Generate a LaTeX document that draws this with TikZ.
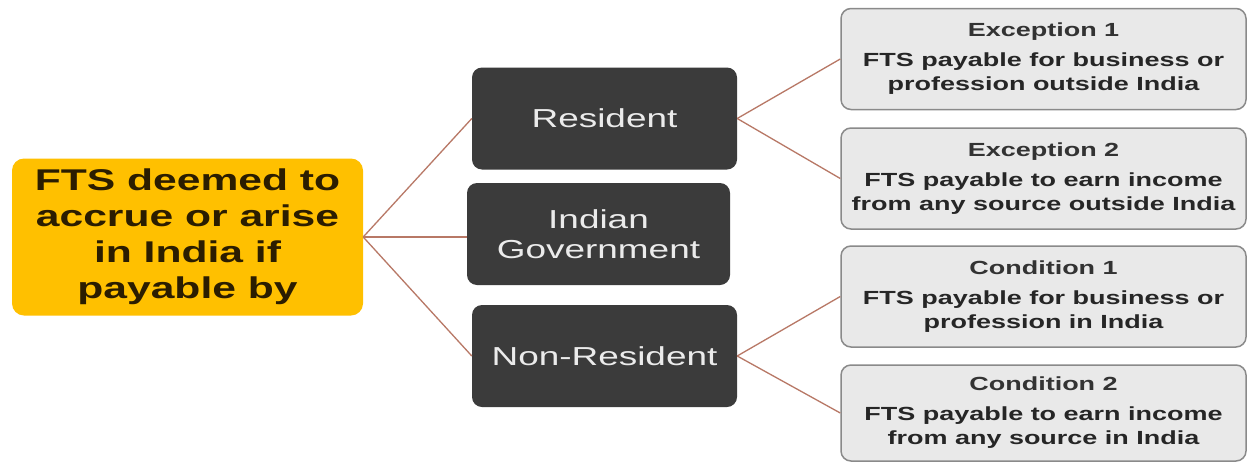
\documentclass[tikz,border=0pt]{standalone}
\usepackage{fontspec}
\setmainfont{Liberation Sans}[FakeStretch=1.42]
\definecolor{amber}{HTML}{FFC000}
\definecolor{darkfill}{HTML}{3B3B3B}
\definecolor{lightfill}{HTML}{E9E9E9}
\definecolor{lightborder}{HTML}{8A8A8A}
\definecolor{conncol}{HTML}{B87866}
\definecolor{roottext}{HTML}{2B1D00}
\definecolor{titlecol}{HTML}{333333}
\begin{document}
\begin{tikzpicture}[x=1pt,y=-1pt,
  rootbox/.style={fill=amber, rounded corners=12pt, minimum width=351pt, minimum height=157pt,
    inner sep=0pt, align=center, text=roottext, font=\fontsize{30}{36}\selectfont\bfseries},
  darkbox/.style={fill=darkfill, rounded corners=10pt, minimum width=265pt, minimum height=102pt,
    inner sep=0pt, align=center, text=white!92!black, font=\fontsize{26}{30}\selectfont},
  infobox/.style={fill=lightfill, draw=lightborder, line width=1.5pt, rounded corners=10pt,
    minimum width=405pt, minimum height=101pt, inner sep=0pt, align=center, text=black!85,
    font=\fontsize{19}{24}\selectfont\bfseries},
  conn/.style={draw=conncol, line width=1.3pt}
]
\useasboundingbox (0,0) rectangle (1249,463);
\fill[white] (0,0) rectangle (1249,463);

\node[rootbox] (root) at (187.5,237) {FTS deemed to\\accrue or arise\\in India if\\payable by};

\node[darkbox] (res) at (604.5,118.5) {Resident};
\node[darkbox, minimum width=263pt] (gov) at (598.5,234) {Indian\\Government};
\node[darkbox] (non) at (604.5,356) {Non-Resident};

\node[infobox] (e1) at (1043.5,59) {{\color{titlecol}Exception 1}\\[6pt]FTS payable for business or\\profession outside India};
\node[infobox] (e2) at (1043.5,178.5) {{\color{titlecol}Exception 2}\\[6pt]FTS payable to earn income\\from any source outside India};
\node[infobox] (c1) at (1043.5,296.5) {{\color{titlecol}Condition 1}\\[6pt]FTS payable for business or\\profession in India};
\node[infobox, minimum height=96pt] (c2) at (1043.5,413) {{\color{titlecol}Condition 2}\\[6pt]FTS payable to earn income\\from any source in India};

\draw[conn] (root.east) -- (res.west);
\draw[conn] (root.east) -- (gov.west |- root.east);
\draw[conn] (root.east) -- (non.west);
\draw[conn] (res.east) -- (e1.west);
\draw[conn] (res.east) -- (e2.west);
\draw[conn] (non.east) -- (c1.west);
\draw[conn] (non.east) -- (c2.west);
\end{tikzpicture}
\end{document}
